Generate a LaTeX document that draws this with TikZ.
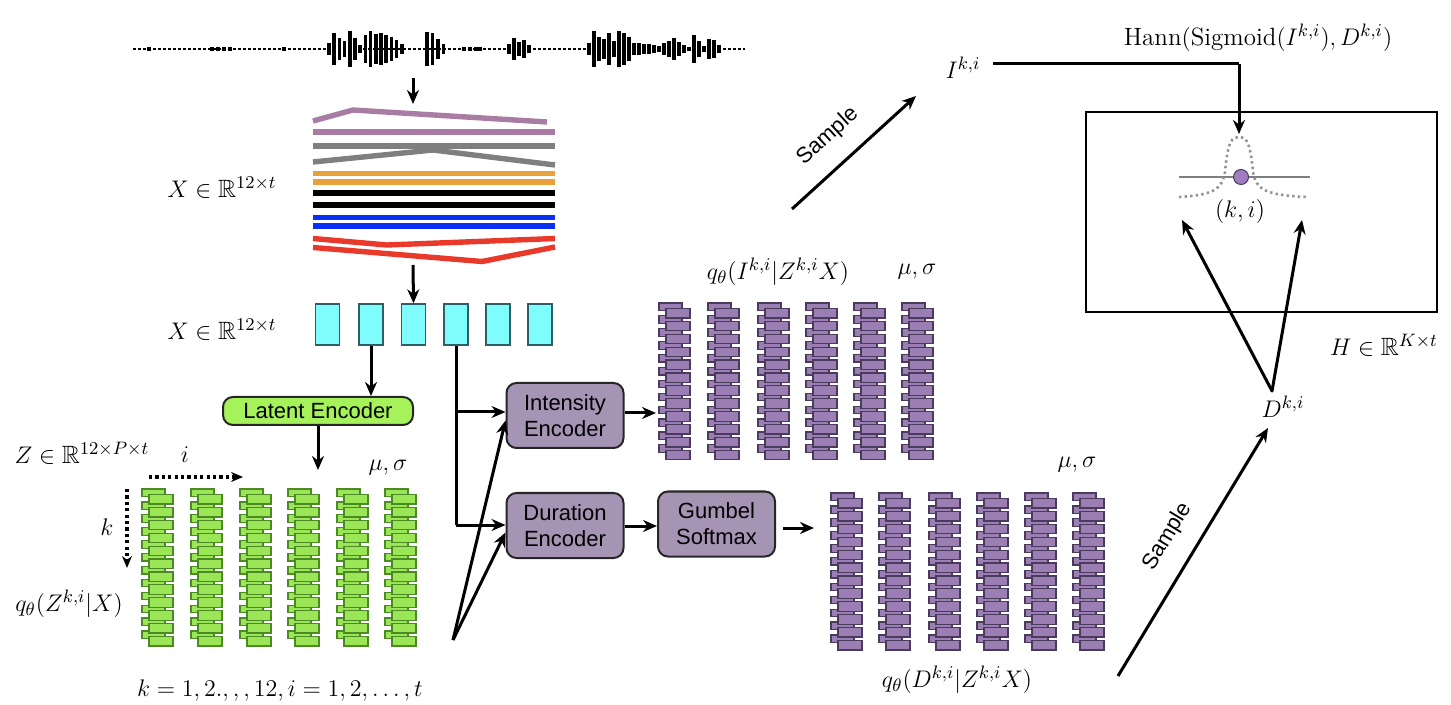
\documentclass[tikz,border=0pt]{standalone}
\usepackage{fontspec}
\usepackage{amsmath,amssymb}
\newfontfamily\boxfont{Liberation Sans}
\usetikzlibrary{arrows.meta}

\definecolor{mauve}{HTML}{A97CA3}
\definecolor{chromagray}{HTML}{7F7F7F}
\definecolor{chromaorange}{HTML}{E9A23B}
\definecolor{chromablue}{HTML}{0A2FF5}
\definecolor{chromared}{HTML}{E8392B}
\definecolor{framecyan}{HTML}{7FFCFC}
\definecolor{framecyanline}{HTML}{2F5F66}
\definecolor{brickgreen}{HTML}{9AE656}
\definecolor{brickgreenline}{HTML}{4C8A26}
\definecolor{boxgreen}{HTML}{A6F25A}
\definecolor{brickpurple}{HTML}{9B7EB4}
\definecolor{brickpurpleline}{HTML}{4A3A5C}
\definecolor{boxpurple}{HTML}{A594B4}
\definecolor{dotpurple}{HTML}{A07DC0}

% one column of staggered bricks: x, y (top), style
\newcommand\brickcol[3]{%
  \foreach \j in {0,...,11}{\path[#3] ({#1},{#2+12.9*\j}) rectangle ++(23,7.5);}%
  \foreach \j in {0,...,11}{\path[#3] ({#1+7},{#2+12.9*\j+5.5}) rectangle ++(24,9.5);}%
}

\begin{document}
\begin{tikzpicture}[x=0.5pt,y=-0.5pt,
  font=\fontsize{12.5}{15}\selectfont,
  arr/.style={line width=1.5pt,-{Stealth[length=7pt,width=6pt]}},
  plain/.style={line width=1.5pt},
  dotarr/.style={line width=1.6pt,dash pattern=on 1.6pt off 1.6pt,-{Stealth[length=6pt,width=5pt]}},
  lbl/.style={inner sep=0pt},
  chroma/.style={line width=2.7pt},
  frame/.style={draw=framecyanline,line width=0.7pt,fill=framecyan,minimum width=12pt,minimum height=20.5pt,inner sep=0pt},
  encbox/.style={draw=black!85,line width=1pt,rounded corners=5pt,fill=boxpurple,
    font=\boxfont\fontsize{11}{13}\selectfont,align=center,
    minimum width=58.5pt,minimum height=32.5pt,inner sep=0pt},
  gbrick/.style={fill=brickgreen,draw=brickgreenline,line width=0.6pt},
  pbrick/.style={fill=brickpurple,draw=brickpurpleline,line width=0.6pt},
  sample/.style={font=\boxfont\fontsize{11}{13}\selectfont,inner sep=0pt}]
\useasboundingbox (0,0) rectangle (1451,705);

% ---------------- waveform ----------------
\draw[line width=0.6pt,dash pattern=on 1.5pt off 1pt] (133,49) -- (745,49);
\foreach \h [count=\n] in {6,16,11,8,18,11,4,14,18,15,16,14,12,9,5}
  {\fill ({329+5.2*(\n-1)-1.8},{49-\h}) rectangle ++(3.6,{2*\h});}
\foreach \h [count=\n] in {17,16,10,5}
  {\fill ({427+5.5*(\n-1)-1.8},{49-\h}) rectangle ++(3.6,{2*\h});}
\foreach \h [count=\n] in {5,11,7,9,4}
  {\fill ({509+5*(\n-1)-1.8},{49-\h}) rectangle ++(3.6,{2*\h});}
\foreach \h [count=\n] in {6,18,12,10,16,8,18,16,12,6,6,5,5,4,3,6,8,11,7,4,2,14,8,3,10,9,4}
  {\fill ({589+5*(\n-1)-1.8},{49-\h}) rectangle ++(3.6,{2*\h});}
\foreach \x in {149,212,218,224,230,284,464,470,476,480}
  {\fill ({\x-1.8},47) rectangle ++(3.6,4);}
\coordinate (wave) at (413,78);

% ---------------- chroma lines ----------------
\coordinate (chromatop) at (413,104);
\coordinate (chromabot) at (413,265);
\draw[chroma,mauve] (313,121) -- (353,110) -- (547,122);
\draw[chroma,mauve] (313,132) -- (555,132);
\draw[chroma,chromagray] (313,146) -- (555,146);
\draw[chroma,chromagray] (313,162) -- (433,150) -- (555,165);
\draw[chroma,chromaorange] (313,173.5) -- (555,173.5);
\draw[chroma,chromaorange] (313,182) -- (555,182);
\draw[chroma,black] (313,193) -- (555,193);
\draw[chroma,black] (313,205) -- (555,205);
\draw[chroma,chromablue] (313,217.5) -- (555,217.5);
\draw[chroma,chromablue] (313,226) -- (555,226);
\draw[chroma,chromared] (313,238.5) -- (387,245) -- (555,238.5);
\draw[chroma,chromared] (313,247.5) -- (482,261.5) -- (555,247);

\draw[arr] (wave) -- (chromatop);

% ---------------- frames ----------------
\foreach \x [count=\n] in {327.5,371,413.5,456,498,540}
  {\node[frame] (c\n) at (\x,324.5) {};}
\draw[arr] (chromabot) -- (c3.north);

\node[lbl] (xchroma) at (222,188) {$X\in\mathbb{R}^{12\times t}$};
\node[lbl] (xframe) at (222,330) {$X\in\mathbb{R}^{12\times t}$};

% ---------------- latent encoder ----------------
\node[encbox,fill=boxgreen,minimum width=95pt,minimum height=14pt] (latent) at (318,411) {Latent Encoder};
\draw[arr] (c2.south) -- (c2.south |- latent.north);
\coordinate (zin) at (318,470);
\draw[arr] (latent.south -| zin) -- (zin);

% ---------------- Z bricks ----------------
\foreach \x in {142,191,240,288,337,385} {\brickcol{\x}{489}{gbrick}}
\node[lbl] (zlab) at (82,453) {$Z\in\mathbb{R}^{12\times P\times t}$};
\node[lbl] (ilab) at (185,455) {$i$};
\node[lbl] (klab) at (107,527) {$k$};
\coordinate (ia) at (149,477); \coordinate (ib) at (243,477);
\coordinate (ka) at (127,489); \coordinate (kb) at (127,568);
\draw[dotarr] (ia) -- (ib);
\draw[dotarr] (ka) -- (kb);
\node[lbl] (zms) at (388,468) {$\mu,\sigma$};
\node[lbl] (qz) at (69,604) {$q_\theta(Z^{k,i}|X)$};
\node[lbl] (klist) at (280,690) {$k=1,2.,,,12,i=1,2,\ldots,t$};

% ---------------- encoders ----------------
\node[encbox] (intens) at (565,415.5) {Intensity\\Encoder};
\node[encbox] (durat) at (565,525.5) {Duration\\Encoder};
\node[encbox] (gumbel) at (716.5,524) {Gumbel\\Softmax};

\draw[plain] (c4.south) -- (c4.south |- 0,525);
\draw[arr] (c4.south |- 0,525) -- (durat.west |- 0,525);
\draw[arr] (c4.south |- 0,412) -- (intens.west |- 0,412);

\coordinate (zout) at (453,640);
\draw[arr] (zout) -- ([yshift=-2.5pt]intens.west);
\draw[arr] (zout) -- ([yshift=-3.5pt]durat.west);

% ---------------- intensity bricks ----------------
\foreach \x in {659,708,758,806,854,902} {\brickcol{\x}{303}{pbrick}}
\coordinate (iin) at (656,413);
\draw[arr] (intens.east |- iin) -- (iin);
\node[lbl] (qi) at (778,272) {$q_\theta(I^{k,i}|Z^{k,i}X)$};
\node[lbl] (ims) at (917,272) {$\mu,\sigma$};

% ---------------- duration bricks ----------------
\draw[arr] (durat.east |- 0,526) -- (gumbel.west |- 0,526);
\foreach \x in {831,879,929,977,1025,1073} {\brickcol{\x}{493}{pbrick}}
\coordinate (gout) at (783,528); \coordinate (din) at (814,528);
\draw[arr] (gout) -- (din);
\node[lbl] (dms) at (1077,465) {$\mu,\sigma$};
\node[lbl] (qd) at (957,680) {$q_\theta(D^{k,i}|Z^{k,i}X)$};

% ---------------- sampling ----------------
\coordinate (sia) at (792,209); \coordinate (sib) at (916,96);
\draw[arr] (sia) -- (sib) node[sample,pos=0.45,sloped,above=9pt] {Sample};
\node[lbl] (ikl) at (963,68) {$I^{k,i}$};

\coordinate (sda) at (1118,676); \coordinate (sdb) at (1268,428);
\draw[arr] (sda) -- (sdb) node[sample,midway,sloped,above=9pt] {Sample};
\node[lbl] (dkl) at (1283,407) {$D^{k,i}$};

% ---------------- output grid ----------------
\node[draw,line width=1pt,minimum width=175.5pt,minimum height=100pt,inner sep=0pt] (hgrid) at (1261.5,212) {};
\node[lbl] (hlab) at (1384,345) {$H\in\mathbb{R}^{K\times t}$};
\node[lbl] (hann) at (1258,38) {$\mathrm{Hann}(\mathrm{Sigmoid}(I^{k,i}),D^{k,i})$};

\draw[line width=1pt,chromagray] (1179,177) -- (1310,177);
\draw[line width=1.3pt,chromagray!85,dash pattern=on 1.2pt off 1.6pt]
  (1179,197) .. controls (1212,195) and (1222,190) .. (1225,172)
  .. controls (1228,140) and (1232,137) .. (1239,137)
  .. controls (1246,137) and (1250,140) .. (1253,172)
  .. controls (1256,190) and (1266,195) .. (1306,197);
\node[circle,fill=dotpurple,draw=brickpurpleline,line width=0.5pt,minimum size=7.5pt,inner sep=0pt] (pt) at (1241,177) {};
\node[lbl] (kil) at (1240,212) {$(k,i)$};

\coordinate (icorner) at (1239,64);
\coordinate (iout) at (993,64);
\draw[plain] (iout) -- (icorner);
\draw[arr] (icorner) -- (1239,134);

\coordinate (dv) at (1272,391);
\coordinate (dl) at (1182,220); \coordinate (dr) at (1302,220);
\draw[arr,line cap=round] (dv) -- (dl);
\draw[arr,line cap=round] (dv) -- (dr);
\end{tikzpicture}
\end{document}
